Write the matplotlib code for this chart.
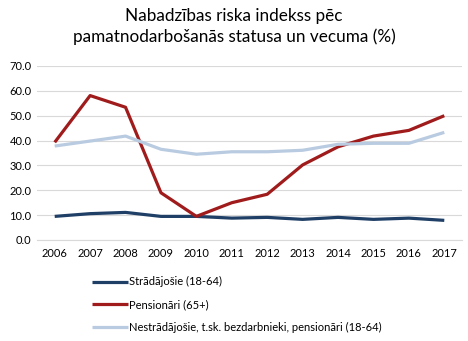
import matplotlib.pyplot as plt
import numpy as np

plt.rcParams["font.family"] = ["Lato", "DejaVu Sans"]

years = [2006, 2007, 2008, 2009, 2010, 2011, 2012, 2013, 2014, 2015, 2016, 2017]
stradajosie = [9.5, 10.6, 11.1, 9.5, 9.5, 8.8, 9.1, 8.3, 9.1, 8.3, 8.8, 7.9]
pensionari = [39.3, 58.1, 53.4, 19.0, 9.5, 15.0, 18.4, 30.2, 37.5, 41.8, 44.1, 50.0]
nestradajosie = [37.8, 39.8, 41.8, 36.5, 34.5, 35.5, 35.5, 36.1, 38.5, 38.9, 38.9, 43.3]

labels = [
    "Strādājošie (18-64)",
    "Pensionāri (65+)",
    "Nestrādājošie, t.sk. bezdarbnieki, pensionāri (18-64)",
]
colors = ["#1f3f66", "#a01c1c", "#b9cbe0"]

fig = plt.figure(figsize=(4.68, 3.41), dpi=100)
ax = fig.add_axes([37 / 468, 1 - 240 / 341, 425 / 468, 174 / 341])

x = np.arange(len(years))
for vals, lab, c in zip([stradajosie, pensionari, nestradajosie], labels, colors):
    ax.plot(x, vals, color=c, lw=2.3, label=lab, solid_capstyle="butt")

ax.set_xlim(-0.5, len(years) - 0.5)
ax.set_ylim(0, 70)
ax.set_yticks(np.arange(0, 71, 10))
ax.set_yticklabels([f"{v:.1f}" for v in np.arange(0, 71, 10)], fontsize=8)
ax.set_xticks(x)
ax.set_xticklabels([str(y) for y in years], fontsize=8)
ax.tick_params(length=0, pad=6)
ax.yaxis.grid(True, color="#d9d9d9", lw=0.8)
ax.set_axisbelow(True)
for s in ["top", "right", "left"]:
    ax.spines[s].set_visible(False)
ax.spines["bottom"].set_color("#d9d9d9")
ax.tick_params(axis="y", pad=4)

fig.text(0.5, 0.978, "Nabadzības riska indekss pēc\npamatnodarbošanās statusa un vecuma (%)",
         ha="center", va="top", fontsize=12.3, linespacing=1.35)

fig.legend(loc="upper left", bbox_to_anchor=(88 / 468, 1 - 272 / 341), frameon=False,
           fontsize=8, handlelength=3.2, handletextpad=0.1, labelspacing=1.05,
           borderaxespad=0)

fig.savefig("out.png", dpi=100)
